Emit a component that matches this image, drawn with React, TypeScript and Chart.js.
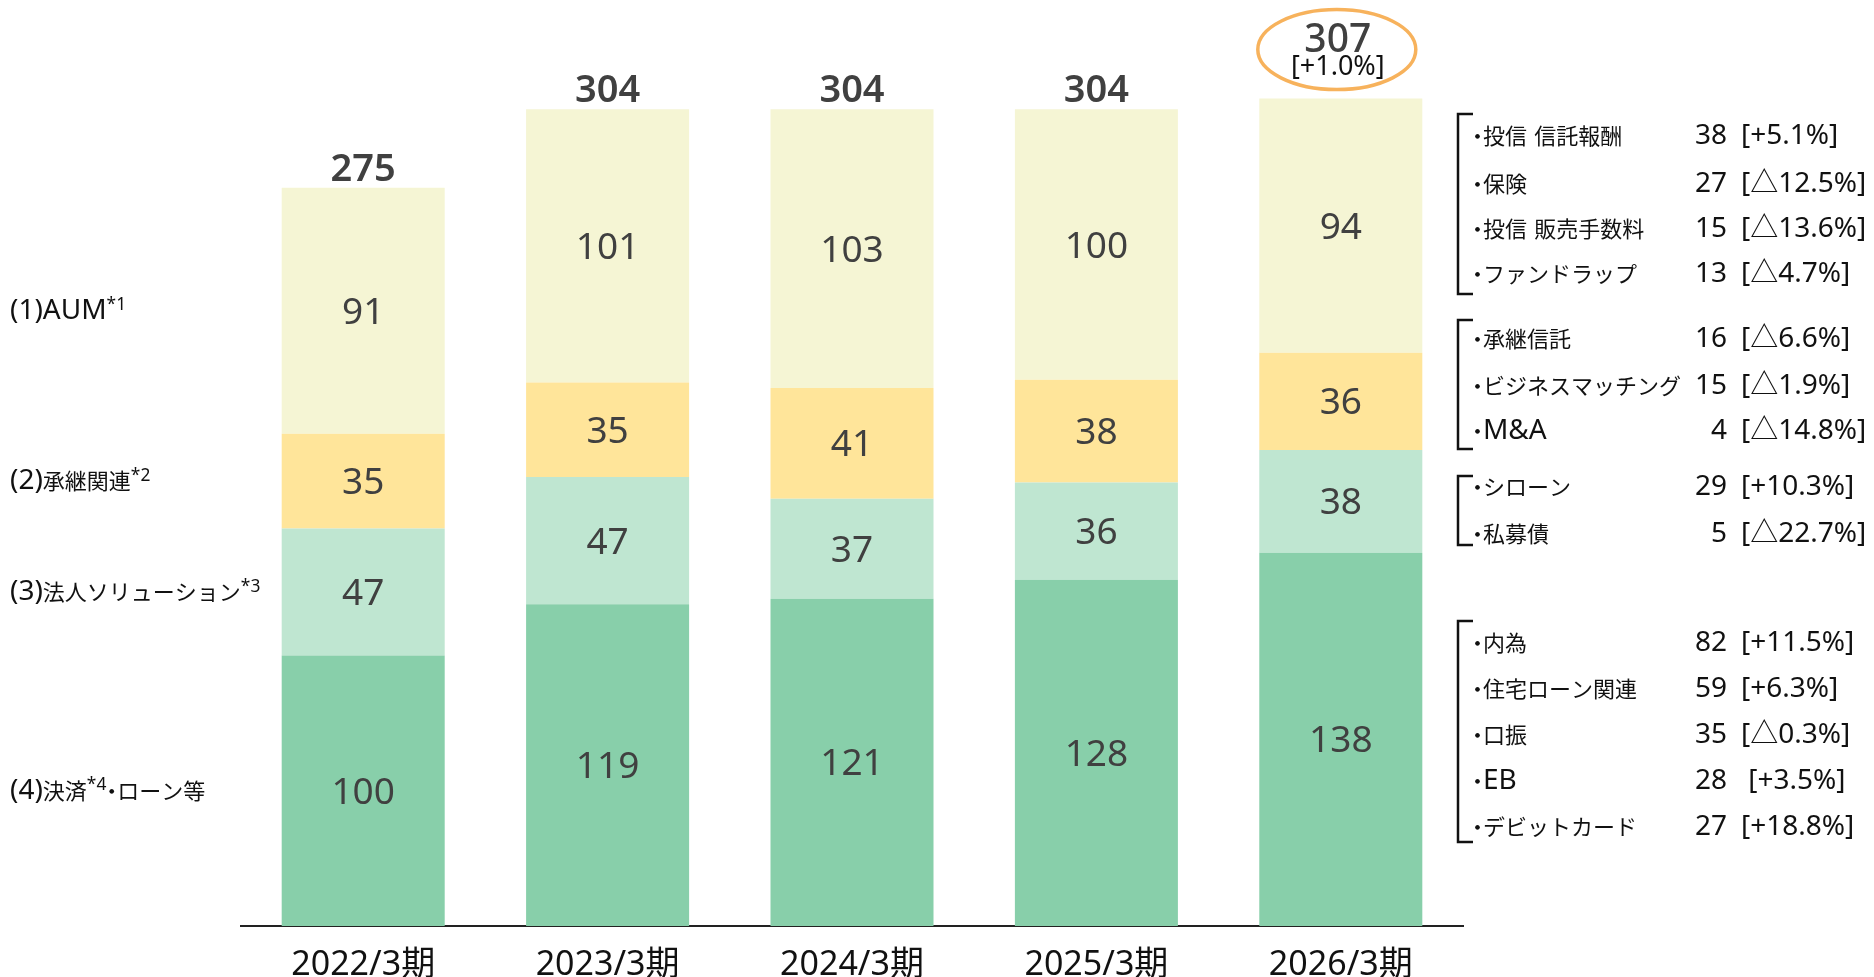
import { useEffect, useRef } from "react";
import { Chart, registerables } from "chart.js";

Chart.register(...registerables);

// ---------- data ----------
const categories = ["2022/3期", "2023/3期", "2024/3期", "2025/3期", "2026/3期"];
const paymentLoan = [100, 119, 121, 128, 138];
const corporate = [47, 47, 37, 36, 38];
const succession = [35, 35, 41, 38, 36];
const aum = [91, 101, 103, 100, 94];
const totals = [275, 304, 304, 304, 307];
const latestChange = "[+1.0%]";

// left segment labels ("^" marks superscript)
const segmentLabels = ["(4)決済^*4^・ローン等", "(3)法人ソリューション^*3", "(2)承継関連^*2", "(1)AUM^*1"];

// right breakdown (2026/3期)
const aumNames = ["・投信 信託報酬", "・保険", "・投信 販売手数料", "・ファンドラップ"];
const aumValues = [38, 27, 15, 13];
const aumChanges = ["[+5.1%]", "[△12.5%]", "[△13.6%]", "[△4.7%]"];

const successionNames = ["・承継信託", "・ビジネスマッチング", "・M&A"];
const successionValues = [16, 15, 4];
const successionChanges = ["[△6.6%]", "[△1.9%]", "[△14.8%]"];

const corporateNames = ["・シローン", "・私募債"];
const corporateValues = [29, 5];
const corporateChanges = ["[+10.3%]", "[△22.7%]"];

const paymentNames = ["・内為", "・住宅ローン関連", "・口振", "・EB", "・デビットカード"];
const paymentValues = [82, 59, 35, 28, 27];
const paymentChanges = ["[+11.5%]", "[+6.3%]", "[△0.3%]", " [+3.5%]", "[+18.8%]"];

// ---------- styling / layout ----------
const LATIN = '"Noto Sans", "Noto Sans CJK JP", sans-serif';
const CJK = '"Noto Sans CJK JP", "Noto Sans", sans-serif';
const COLORS = ["#88CFAA", "#BFE6D1", "#FFE59A", "#F5F5D4"];
const VALUE_COLOR = "#404040";
const TEXT_COLOR = "#111111";

const breakdownGroups = [
  { names: aumNames, values: aumValues, changes: aumChanges, rows: [134, 182, 227, 272], bracket: [114, 294] },
  { names: successionNames, values: successionValues, changes: successionChanges, rows: [337, 384, 429], bracket: [320, 449] },
  { names: corporateNames, values: corporateValues, changes: corporateChanges, rows: [485, 532], bracket: [476, 545] },
  { names: paymentNames, values: paymentValues, changes: paymentChanges, rows: [641, 687, 733, 779, 825], bracket: [621, 842] },
];

const isCJK = (ch: string) => /[\u3000-\u30ff\u3400-\u9fff\uff00-\uffef]/.test(ch);

type Run = { text: string; kind: "cjk" | "latin" | "dot" };
function splitRuns(s: string): Run[] {
  const runs: Run[] = [];
  for (const ch of s) {
    const kind: Run["kind"] = ch === "・" ? "dot" : isCJK(ch) ? "cjk" : "latin";
    const last = runs[runs.length - 1];
    if (last && last.kind === kind && kind !== "dot") last.text += ch;
    else runs.push({ text: ch, kind });
  }
  return runs;
}

function drawRich(
  ctx: CanvasRenderingContext2D,
  text: string,
  x: number,
  baseline: number,
  latinSize: number,
  cjkSize: number
) {
  const parts = text.split("^");
  let cx = x;
  ctx.textAlign = "left";
  ctx.textBaseline = "alphabetic";
  parts.forEach((part, pi) => {
    const sup = pi % 2 === 1;
    for (const run of splitRuns(part)) {
      if (run.kind === "dot") {
        ctx.font = `${cjkSize}px ${CJK}`;
        ctx.fillText("・", cx - cjkSize * 0.3, baseline);
        cx += cjkSize * 0.45;
        continue;
      }
      const size = sup ? latinSize * 0.62 : run.kind === "cjk" ? cjkSize : latinSize;
      ctx.font = `${size}px ${run.kind === "cjk" ? CJK : LATIN}`;
      const by = sup ? baseline - latinSize * 0.3 : baseline;
      ctx.fillText(run.text, cx, by);
      cx += ctx.measureText(run.text).width + (sup ? 1 : 0);
    }
  });
}

const annotationPlugin = {
  id: "annotations",
  afterDatasetsDraw(chart: any) {
    const ctx: CanvasRenderingContext2D = chart.ctx;
    ctx.save();

    // values inside segments
    chart.data.datasets.forEach((ds: any, di: number) => {
      const meta = chart.getDatasetMeta(di);
      meta.data.forEach((el: any, i: number) => {
        const cy = (el.y + el.base) / 2;
        ctx.font = `37px ${LATIN}`;
        ctx.fillStyle = VALUE_COLOR;
        ctx.textAlign = "center";
        ctx.textBaseline = "alphabetic";
        ctx.fillText(String(ds.data[i]), el.x, cy + 13);
      });
    });

    // totals
    const topMeta = chart.getDatasetMeta(chart.data.datasets.length - 1);
    topMeta.data.forEach((el: any, i: number) => {
      const top = el.y;
      ctx.textAlign = "center";
      ctx.textBaseline = "alphabetic";
      if (i === totals.length - 1) {
        ctx.fillStyle = VALUE_COLOR;
        ctx.font = `500 39px ${LATIN}`;
        ctx.fillText(String(totals[i]), el.x - 3, top - 47);
        ctx.fillStyle = TEXT_COLOR;
        ctx.font = `27px ${LATIN}`;
        ctx.fillText(latestChange, el.x - 3, top - 24);
        ctx.beginPath();
        ctx.ellipse(el.x - 4, top - 49, 79, 40, 0, 0, Math.PI * 2);
        ctx.strokeStyle = "#F7B25C";
        ctx.lineWidth = 3.5;
        ctx.stroke();
      } else {
        ctx.fillStyle = VALUE_COLOR;
        ctx.font = `600 38px ${LATIN}`;
        ctx.fillText(String(totals[i]), el.x, top - 7);
      }
    });

    // left segment labels aligned with first bar's segments
    ctx.fillStyle = TEXT_COLOR;
    chart.data.datasets.forEach((_ds: any, di: number) => {
      const el = chart.getDatasetMeta(di).data[0];
      const cy = (el.y + el.base) / 2 - 2;
      drawRich(ctx, segmentLabels[di], 10, cy + 10, 28, 22);
    });

    // right breakdown
    breakdownGroups.forEach((g) => {
      ctx.strokeStyle = "#111";
      ctx.lineWidth = 2.5;
      ctx.beginPath();
      ctx.moveTo(1473, g.bracket[0]);
      ctx.lineTo(1458, g.bracket[0]);
      ctx.lineTo(1458, g.bracket[1]);
      ctx.lineTo(1473, g.bracket[1]);
      ctx.stroke();
      g.rows.forEach((y, r) => {
        ctx.fillStyle = TEXT_COLOR;
        drawRich(ctx, g.names[r], 1473, y + 10, 28, 22);
        ctx.font = `28px ${LATIN}`;
        ctx.textAlign = "right";
        ctx.textBaseline = "alphabetic";
        ctx.fillText(String(g.values[r]), 1727, y + 10);
        ctx.textAlign = "left";
        ctx.fillText(g.changes[r], 1741, y + 10);
      });
    });

    ctx.restore();
  },
};

export default function App() {
  const canvasRef = useRef<HTMLCanvasElement | null>(null);

  useEffect(() => {
    if (!canvasRef.current) return;
    const chart = new Chart(canvasRef.current, {
      type: "bar",
      data: {
        labels: categories,
        datasets: [
          { label: "(4)決済・ローン等", data: paymentLoan, backgroundColor: COLORS[0] },
          { label: "(3)法人ソリューション", data: corporate, backgroundColor: COLORS[1] },
          { label: "(2)承継関連", data: succession, backgroundColor: COLORS[2] },
          { label: "(1)AUM", data: aum, backgroundColor: COLORS[3] },
        ],
      },
      options: {
        responsive: false,
        animation: false,
        layout: { padding: { left: 241, right: 411, top: 12, bottom: 0 } },
        plugins: { legend: { display: false }, tooltip: { enabled: false } },
        datasets: { bar: { categoryPercentage: 1, barPercentage: 0.667, borderWidth: 0 } },
        scales: {
          x: {
            stacked: true,
            grid: { display: false, drawTicks: false },
            border: { display: true, color: "#222", width: 2 },
            ticks: { font: { family: LATIN, size: 34 }, color: "#111", padding: 19 },
            afterFit: (s: any) => {
              s.height = 51;
            },
          },
          y: { stacked: true, display: false, min: 0, max: 338 },
        },
      } as any,
      plugins: [annotationPlugin],
    });
    return () => chart.destroy();
  }, []);

  return (
    <div style={{ position: "fixed", left: 0, top: 0, width: 1874, height: 977, background: "#fff" }}>
      <canvas ref={canvasRef} width={1874} height={977} style={{ display: "block" }} />
    </div>
  );
}
